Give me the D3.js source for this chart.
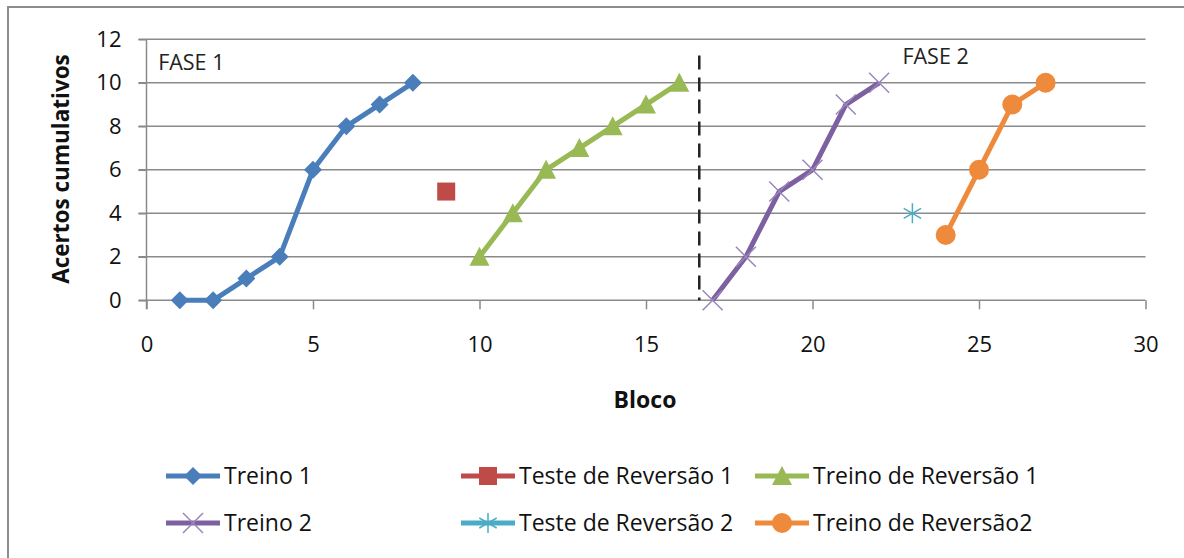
<!DOCTYPE html>
<html><head><meta charset="utf-8">
<script src="https://cdn.jsdelivr.net/npm/d3@7"></script>
<style>
body{margin:0;background:#fff;}
svg{display:block;font-family:"Open Sans",sans-serif;}
</style></head>
<body><svg id="c" width="1184" height="558"></svg>
<script>
// ---- data ----
const treino1X = [1,2,3,4,5,6,7,8];
const treino1Y = [0,0,1,2,6,8,9,10];
const teste1X = [9];
const teste1Y = [5];
const treinoRev1X = [10,11,12,13,14,15,16];
const treinoRev1Y = [2,4,6,7,8,9,10];
const treino2X = [17,18,19,20,21,22];
const treino2Y = [0,2,5,6,9,10];
const teste2X = [23];
const teste2Y = [4];
const treinoRev2X = [24,25,26,27];
const treinoRev2Y = [3,6,9,10];
const seriesNames = ["Treino 1","Teste de Reversão 1","Treino de Reversão 1","Treino 2","Teste de Reversão 2","Treino de Reversão2"];
const xTicks = [0,5,10,15,20,25,30];
const yTicks = [0,2,4,6,8,10,12];
const phaseDivider = 16.6;
const phaseLabels = ["FASE 1","FASE 2"];

const colors = ["#4A7EBB","#BE4B48","#98B954","#7D60A0","#4BACC6","#EE8A3C"];
const markerTypes = ["diamond","square","triangle","x","star","circle"];
const series = [
  {x:treino1X,y:treino1Y},{x:teste1X,y:teste1Y},{x:treinoRev1X,y:treinoRev1Y},
  {x:treino2X,y:treino2Y},{x:teste2X,y:teste2Y},{x:treinoRev2X,y:treinoRev2Y}
].map((s,i)=>({name:seriesNames[i],color:colors[i],marker:markerTypes[i],pts:s.x.map((v,j)=>[v,s.y[j]])}));

const svg = d3.select("#c");
const x = d3.scaleLinear().domain([0,30]).range([146.5,1145.5]);
const y = d3.scaleLinear().domain([0,12]).range([300.3,39.3]);

// outer border
svg.append("rect").attr("x",8).attr("y",7).attr("width",1190).attr("height",560)
  .attr("fill","none").attr("stroke","#8c8c8c").attr("stroke-width",2);

// gridlines
svg.append("g").selectAll("line").data(yTicks).join("line")
  .attr("x1",x(0)-8).attr("x2",x(30)).attr("y1",d=>y(d)).attr("y2",d=>y(d))
  .attr("stroke","#8a8a8a").attr("stroke-width",1.5);

// axes
const gx = svg.append("g").attr("transform",`translate(0,${y(0)})`)
  .call(d3.axisBottom(x).tickValues(xTicks).tickSize(9).tickPadding(27));
const gy = svg.append("g").attr("transform",`translate(${x(0)},0)`)
  .call(d3.axisLeft(y).tickValues(yTicks).tickSize(8).tickPadding(17));
[gx,gy].forEach(g=>{
  g.select(".domain").attr("stroke","#8a8a8a").attr("stroke-width",1.5);
  g.selectAll(".tick line").attr("stroke","#8a8a8a").attr("stroke-width",1.5);
  g.selectAll(".tick text").attr("font-family","'Open Sans',sans-serif").attr("font-size",22).attr("fill","#111");
});
gy.select(".domain").remove();
svg.append("line").attr("x1",x(0)).attr("x2",x(0)).attr("y1",y(12)).attr("y2",y(0)+9)
  .attr("stroke","#8a8a8a").attr("stroke-width",1.5);
gx.select(".domain").remove();

// axis titles
svg.append("text").attr("x",645).attr("y",408).attr("text-anchor","middle")
  .attr("font-weight","bold").attr("font-size",23).attr("fill","#111").text("Bloco");
svg.append("text").attr("transform","translate(69,169) rotate(-90)").attr("text-anchor","middle")
  .attr("font-weight","bold").attr("font-size",22.5).attr("fill","#111").text("Acertos cumulativos");

// phase divider
svg.append("line").attr("x1",x(phaseDivider)).attr("x2",x(phaseDivider))
  .attr("y1",y(11.25)).attr("y2",y(0)).attr("stroke","#222").attr("stroke-width",2.5)
  .attr("stroke-dasharray","14,8");
svg.append("text").attr("x",x(0.35)).attr("y",70).attr("font-size",21.5).attr("fill","#222").text(phaseLabels[0]);
svg.append("text").attr("x",x(22.7)).attr("y",64).attr("font-size",21.5).attr("fill","#222").text(phaseLabels[1]);

// marker drawing
function drawMarker(g, type, color, cx, cy){
  if(type==="diamond"){
    const r=9;
    g.append("path").attr("d",`M${cx},${cy-r}L${cx+r},${cy}L${cx},${cy+r}L${cx-r},${cy}Z`).attr("fill",color);
  } else if(type==="square"){
    const h=9;
    g.append("rect").attr("x",cx-h).attr("y",cy-h).attr("width",2*h).attr("height",2*h).attr("fill",color);
  } else if(type==="triangle"){
    const w=10,hh=9;
    g.append("path").attr("d",`M${cx},${cy-hh-1}L${cx+w},${cy+hh}L${cx-w},${cy+hh}Z`).attr("fill",color);
  } else if(type==="circle"){
    g.append("circle").attr("cx",cx).attr("cy",cy).attr("r",10).attr("fill",color);
  } else if(type==="x"){
    const r=10;
    g.append("path").attr("d",`M${cx-r},${cy-r}L${cx+r},${cy+r}M${cx-r},${cy+r}L${cx+r},${cy-r}`)
      .attr("stroke","#9a86bd").attr("stroke-width",1.5).attr("fill","none");
  } else if(type==="star"){
    const r=10;
    g.append("path").attr("d",`M${cx},${cy-r}L${cx},${cy+r}M${cx-r*0.87},${cy-r*0.5}L${cx+r*0.87},${cy+r*0.5}M${cx-r*0.87},${cy+r*0.5}L${cx+r*0.87},${cy-r*0.5}`)
      .attr("stroke","#4BACC6").attr("stroke-width",1.5).attr("fill","none");
  }
}

// series
const line = d3.line().x(d=>x(d[0])).y(d=>y(d[1]));
series.forEach(s=>{
  const g = svg.append("g");
  if(s.pts.length>1){
    g.append("path").attr("d",line(s.pts)).attr("fill","none").attr("stroke",s.color)
      .attr("stroke-width",5).attr("stroke-linejoin","round");
  }
  s.pts.forEach(p=>drawMarker(g,s.marker,s.color,x(p[0]),y(p[1])));
});

// legend
const legX = [166,461,755];
const legY = [476,523];
series.forEach((s,i)=>{
  const lx = legX[i%3], ly = legY[Math.floor(i/3)];
  const g = svg.append("g");
  g.append("line").attr("x1",lx).attr("x2",lx+54).attr("y1",ly).attr("y2",ly)
    .attr("stroke",s.color).attr("stroke-width",5);
  drawMarker(g,s.marker,s.color,lx+27,ly);
  g.append("text").attr("x",lx+58).attr("y",ly).attr("dy","0.35em").attr("font-size",23)
    .attr("fill","#111").text(s.name);
});
</script></body></html>
